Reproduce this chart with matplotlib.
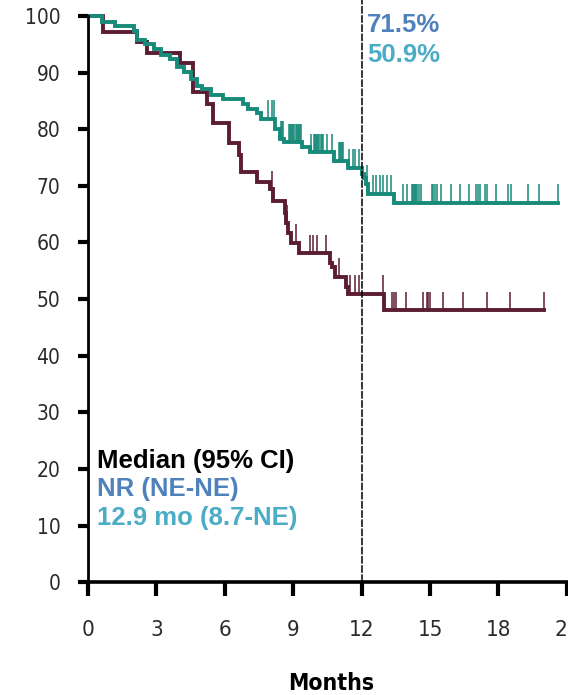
import numpy as np
import matplotlib
matplotlib.use("Agg")
import matplotlib.pyplot as plt

# Kaplan-Meier curves (months, % surviving after each drop)
teal_times = [0.6, 1.2, 2.0, 2.15, 2.5, 2.9, 3.2, 3.6, 3.9, 4.2, 4.5, 4.8, 5.0, 5.4,
              5.9, 6.8, 7.0, 7.4, 7.6, 8.2, 8.4, 8.6, 9.4, 9.75, 10.8, 11.4, 12.0,
              12.1, 12.2, 12.3, 13.4]
teal_surv = [99.0, 98.2, 97.4, 95.7, 95.1, 94.2, 93.1, 92.4, 91.0, 90.1, 88.9, 87.7,
             87.1, 86.0, 85.4, 84.5, 83.6, 82.8, 81.8, 80.0, 78.2, 77.7, 76.8, 75.9,
             74.4, 73.2, 72.0, 71.4, 70.3, 68.6, 67.0]
teal_end = 20.6
teal_censor = [7.9, 8.05, 8.15, 8.45, 8.5, 8.55,
               8.8, 8.85, 8.9, 8.95, 9.0, 9.05, 9.1, 9.15, 9.2, 9.25, 9.3, 9.35,
               9.8, 9.9, 9.95, 10.0, 10.05, 10.1, 10.15, 10.2, 10.25, 10.3, 10.5, 10.7,
               11.0, 11.05, 11.1, 11.15, 11.2, 11.45, 11.6, 11.7, 11.9,
               12.25, 12.5, 12.65, 12.8, 12.95, 13.1, 13.3,
               13.8, 14.0, 14.2, 14.25, 14.3, 14.35, 14.4, 14.45, 14.5, 14.6,
               15.1, 15.15, 15.2, 15.3, 15.5, 15.9, 16.3, 16.7, 17.0, 17.1, 17.2,
               17.4, 17.5, 17.9, 18.4, 18.55, 19.3, 19.8, 20.6]

maroon_times = [0.67, 2.15, 2.6, 4.05, 4.6, 5.2, 5.5, 6.2, 6.6, 6.7, 7.4, 8.0, 8.1,
                8.65, 8.7, 8.75, 8.9, 9.25, 10.6, 10.7, 10.85, 11.3, 11.4, 13.0]
maroon_surv = [97.2, 95.4, 93.5, 91.7, 86.6, 84.4, 81.1, 77.5, 75.5, 72.5, 70.7, 69.4,
               67.4, 65.2, 63.4, 61.6, 59.9, 58.1, 56.4, 55.6, 53.9, 52.2, 50.9, 48.0]
maroon_end = 20.0
maroon_censor = [8.07, 8.72, 9.1, 9.75, 9.85, 10.05, 10.45, 11.0, 11.5, 11.7, 11.9,
                 12.95, 13.35, 13.4, 13.5, 13.95, 14.7, 14.85, 14.93, 15.0, 15.55,
                 16.45, 17.5, 18.5, 20.0]

x_ticks = [0, 3, 6, 9, 12, 15, 18, 21]
y_ticks = [0, 10, 20, 30, 40, 50, 60, 70, 80, 90, 100]

landmark = 12
landmark_labels = ["71.5%", "50.9%"]
median_title = "Median (95% CI)"
median_labels = ["NR (NE-NE)", "12.9 mo (8.7-NE)"]

TEAL = "#178a79"
MAROON = "#5b1d33"
BLUE = "#4f81bd"
CYAN = "#4bacc6"

narrow = ["DejaVu Sans"]
bold = ["Liberation Sans", "DejaVu Sans"]

fig = plt.figure(figsize=(5.68, 6.95), dpi=100)
ax = fig.add_axes([0.155, 0.162, 0.855, 0.838])


def km_curve(times, surv, end, censor, color):
    t = np.r_[0, times, end]
    s = np.r_[100, surv, surv[-1]]
    ax.step(t, s, where="post", color=color, lw=2.8, solid_joinstyle="miter")
    # censor marks sit on the curve level at each time
    idx = np.searchsorted(t, censor, side="right") - 1
    lvl = s[idx]
    ax.vlines(censor, lvl, lvl + 3.3, color=color, lw=1.1)


km_curve(maroon_times, maroon_surv, maroon_end, maroon_censor, MAROON)
km_curve(teal_times, teal_surv, teal_end, teal_censor, TEAL)

ax.axvline(landmark, color="black", lw=1.1, ls=(0, (5, 1)))

ax.set_xlim(0, 21.3)
ax.set_ylim(0, 102.8)
ax.set_xticks(x_ticks)
ax.set_yticks(y_ticks)

for side in ["top", "right"]:
    ax.spines[side].set_visible(False)
ax.spines["left"].set_linewidth(2.0)
ax.spines["bottom"].set_linewidth(2.6)
ax.spines["left"].set_bounds(0, 100)

ax.tick_params(axis="y", length=7, width=3, pad=13, labelsize=15, labelcolor="#2a2a2a")
ax.tick_params(axis="x", length=10, width=3, pad=17, labelsize=16, labelcolor="#2a2a2a")
for lab in ax.get_xticklabels() + ax.get_yticklabels():
    lab.set_family(narrow)
    lab.set_stretch("condensed")

ax.set_xlabel("Months", family=narrow, stretch="condensed", fontsize=16.5,
              fontweight="bold", labelpad=23)

ax.text(12.25, 98.4, landmark_labels[0], color=BLUE, fontsize=18.5,
        fontweight="bold", family=bold, va="center", ha="left")
ax.text(12.25, 93.1, landmark_labels[1], color=CYAN, fontsize=18.5,
        fontweight="bold", family=bold, va="center", ha="left")

ax.text(0.4, 21.4, median_title, color="black", fontsize=18.5, fontweight="bold",
        family=bold, va="center", ha="left")
ax.text(0.4, 16.4, median_labels[0], color=BLUE, fontsize=18.5, fontweight="bold",
        family=bold, va="center", ha="left")
ax.text(0.4, 11.3, median_labels[1], color=CYAN, fontsize=18.5, fontweight="bold",
        family=bold, va="center", ha="left")

fig.savefig("out.png", dpi=100)
